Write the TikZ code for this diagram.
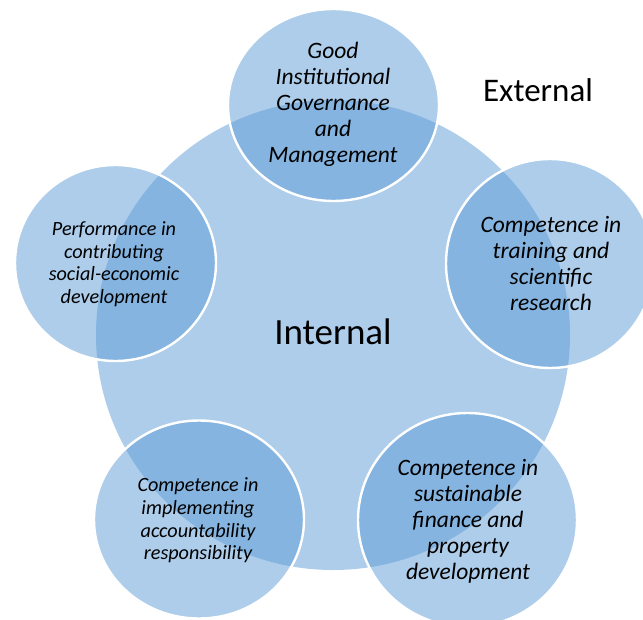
\documentclass[tikz,border=0pt]{standalone}
\usepackage{fontspec}
\setmainfont{Carlito}
\definecolor{acc}{HTML}{5B9BD5}
\tikzset{
  disc/.style={fill=acc, fill opacity=0.5},
  outer/.style={draw=white, line width=2.4pt},
  lbl/.style={align=center, text=black, font=\itshape\fontsize{23.5}{26}\selectfont},
  lblsmall/.style={align=center, text=black, font=\itshape\fontsize{20.2}{22.6}\selectfont}
}
\begin{document}
\begin{tikzpicture}[x=1pt,y=-1pt]
\useasboundingbox (0,0) rectangle (643,619);
% big circle
\fill[disc] (333,335) ellipse [x radius=237, y radius=235];
% small circles
\fill[disc] (333.5,105) ellipse [x radius=105.5, y radius=96];
\fill[disc] (550,263.5) ellipse [x radius=104, y radius=104.5];
\fill[disc] (467.5,520) ellipse [x radius=109.5, y radius=107];
\fill[disc] (199,519.5) ellipse [x radius=105, y radius=99];
\fill[disc] (115.5,263) ellipse [x radius=100.5, y radius=98];
\draw[outer] (333.5,105) ellipse [x radius=105.5, y radius=96];
\draw[outer] (550,263.5) ellipse [x radius=104, y radius=104.5];
\draw[outer] (467.5,520) ellipse [x radius=109.5, y radius=107];
\draw[outer] (199,519.5) ellipse [x radius=105, y radius=99];
\draw[outer] (115.5,263) ellipse [x radius=100.5, y radius=98];
% texts
\node[lbl] (top) at (333,104) {Good\\Institutional\\Governance\\and\\Management};
\node[lbl] (right) at (551,263) {Competence in\\training and\\scientific\\research};
\node[lbl] (bright) at (468,521) {Competence in\\sustainable\\finance and\\property\\development};
\node[lblsmall] (bleft) at (198,520.5) {Competence in\\implementing\\accountability\\responsibility};
\node[lblsmall] (left) at (114,264) {Performance in\\contributing\\social-economic\\development};
\node[font=\fontsize{37}{44}\selectfont] (int) at (333,332) {Internal};
\node[font=\fontsize{33}{40}\selectfont] (ext) at (538,90) {External};
\end{tikzpicture}
\end{document}
